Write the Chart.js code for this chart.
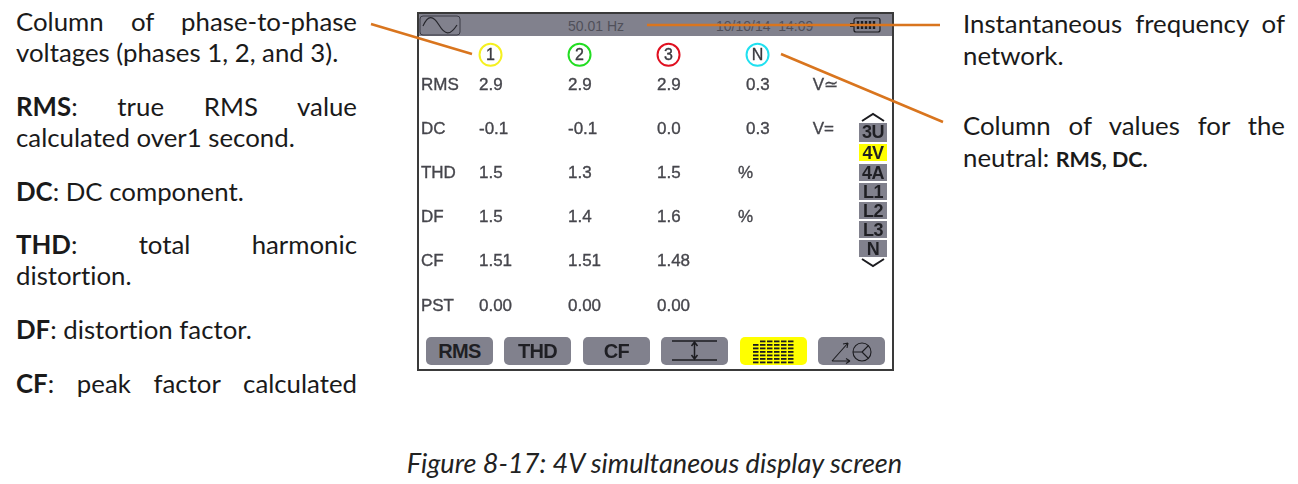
<!DOCTYPE html>
<html>
<head>
<meta charset="utf-8">
<title>4V simultaneous display screen</title>
<script src="https://cdn.jsdelivr.net/npm/chart.js@4"></script>
<style>
html, body { margin: 0; padding: 0; background: #fff; }
body { width: 1298px; height: 484px; position: relative; overflow: hidden; font-family: Lato, sans-serif; font-variant-ligatures: none; color: #1a1a1a; }
.line { position: absolute; font-size: 25.8px; line-height: 30px; height: 30px; white-space: nowrap; }
.left { left: 16px; width: 341px; }
.right { left: 963px; width: 322px; }
.just { white-space: normal; text-align: justify; text-align-last: justify; }
.small { font-size: 21.5px; font-weight: 700; }
#caption { position: absolute; left: 387px; top: 448px; width: 535px; text-align: center; font-size: 27.1px; line-height: 30px; font-style: italic; white-space: nowrap; color: #222; }
#screen { position: absolute; left: 417px; top: 12px; width: 473px; height: 355px; border: 2px solid #3a3a3a; background: #fff; }
#topbar { position: absolute; left: 419px; top: 14px; width: 473px; height: 22px; background: #81818d; font: 14px "Liberation Sans", sans-serif; color: #50505a; }
#topbar span { position: absolute; top: 4px; white-space: nowrap; }
#chart { position: absolute; left: 418px; top: 13px; }
.btn { position: absolute; top: 337px; width: 67px; height: 28px; border-radius: 5px; background: #81818d; font: bold 20px/29px "Liberation Sans", sans-serif; letter-spacing: -0.7px; color: #1f1f24; text-align: center; }
.btn.on { background: #ffff00; }
.btn svg { position: absolute; left: 0; top: 0; }
.menu { position: absolute; left: 859px; width: 28px; background: #81818d; font: bold 18px/18px "Liberation Sans", sans-serif; letter-spacing: -0.4px; color: #1f1f24; text-align: center; }
.menu.on { background: #ffff00; }
svg.over { position: absolute; left: 0; top: 0; pointer-events: none; }
</style>
</head>
<body>
<div class="line left just" style="top:6px">Column of phase-to-phase</div>
<div class="line left" style="top:37px">voltages (phases 1, 2, and 3).</div>
<div class="line left just" style="top:91px"><b>RMS</b>: true RMS value</div>
<div class="line left" style="top:122px">calculated over1 second.</div>
<div class="line left" style="top:176px"><b>DC</b>: DC component.</div>
<div class="line left just" style="top:229px"><b>THD</b>: total harmonic</div>
<div class="line left" style="top:260px">distortion.</div>
<div class="line left" style="top:314px"><b>DF</b>: distortion factor.</div>
<div class="line left just" style="top:368px"><b>CF</b>: peak factor calculated</div>

<div class="line right just" style="top:8px">Instantaneous frequency of</div>
<div class="line right" style="top:40px">network.</div>
<div class="line right just" style="top:110px">Column of values for the</div>
<div class="line right" style="top:142px">neutral: <span class="small">RMS, DC.</span></div>

<div id="caption">Figure 8-17: 4V simultaneous display screen</div>

<div id="screen"></div>
<div id="topbar">
  <span style="left:149px">50.01 Hz</span>
  <span style="left:297px">10/10/14&nbsp; 14:09</span>
  <svg width="473" height="22" style="position:absolute;left:0;top:0">
    <rect x="1" y="2" width="40" height="19" rx="3" fill="none" stroke="#3a3a44" stroke-width="1"/>
    <path d="M4 12 C9 1, 14 1, 20 11 S31 22, 38 11" fill="none" stroke="#26262c" stroke-width="1.2"/>
    <rect x="435" y="4" width="26" height="14" rx="2" fill="none" stroke="#1c1c20" stroke-width="1.2"/>
    <rect x="431" y="9" width="4" height="4" fill="#1c1c20"/>
    <path d="M439 7v8M443 7v8M447 7v8M451 7v8M455 7v8" stroke="#1c1c20" stroke-width="2.4"/>
  </svg>
</div>

<canvas id="chart" width="475" height="356" style="width:475px;height:356px"></canvas>

<div class="btn" style="left:426px">RMS</div>
<div class="btn" style="left:504px">THD</div>
<div class="btn" style="left:583px">CF</div>
<div class="btn" style="left:661px">
  <svg width="67" height="28"><path d="M11 4H56M11 23H56" stroke="#1c1c20" stroke-width="1.3"/><path d="M33.500 6V21M30.500 9L33.500 5L36.500 9M30.500 18L33.500 22L36.500 18" fill="none" stroke="#1c1c20" stroke-width="1.5"/></svg>
</div>
<div class="btn on" style="left:740px">
  <svg width="67" height="28"><g id="gridIcon"></g></svg>
</div>
<div class="btn" style="left:818px">
  <svg width="67" height="28"><path d="M14 24L30 6M14 24H32M30 6l-5 1M30 6l-1 5M32 24l-4 -2.500M32 24l-4 2.500" fill="none" stroke="#1c1c20" stroke-width="1.1"/><circle cx="44" cy="15" r="9" fill="none" stroke="#1c1c20" stroke-width="1.1"/><path d="M44 15L50.500 8.500M44 15L50.500 21.500M44 15H35" stroke="#1c1c20" stroke-width="1.1"/></svg>
</div>

<div class="menu" style="top:123px;height:19px">3U</div>
<div class="menu on" style="top:144px;height:17px">4V</div>
<div class="menu" style="top:164px;height:17px">4A</div>
<div class="menu" style="top:183px;height:17px">L1</div>
<div class="menu" style="top:202px;height:17px">L2</div>
<div class="menu" style="top:221px;height:17px">L3</div>
<div class="menu" style="top:240px;height:17px">N</div>

<svg class="over" width="1298" height="484">
  <path d="M862 121L873 114L884 121M862 259L873 266L884 259" fill="none" stroke="#1c1c20" stroke-width="2"/>
  <path d="M371 24L472 54M647 25H940M781 54L943 122" fill="none" stroke="#d9751e" stroke-width="2.5"/>
</svg>

<script>
// table
const rowNames = ['RMS', 'DC', 'THD', 'DF', 'CF', 'PST'];
const rowDecimals = [1, 1, 1, 1, 2, 2];
const phaseNames = ['1', '2', '3', 'N'];
const phaseColors = ['#f5f020', '#22dd22', '#e01020', '#20e0f0'];
const phase1 = [2.9, -0.1, 1.5, 1.5, 1.51, 0.00];
const phase2 = [2.9, -0.1, 1.3, 1.4, 1.51, 0.00];
const phase3 = [2.9, 0.0, 1.5, 1.6, 1.48, 0.00];
const neutral = [0.3, 0.3, null, null, null, null];
const voltUnits = ['V\u2243', 'V=', null, null, null, null];
const percentUnits = [null, null, '%', '%', null, null];

// column and row spots on the linear scales, one unit = one table column / row
const HEADER_ROW = -0.66;
const HEADER_COL = 0.13;
const NAME_COL = -0.652;
const PERCENT_COL = 2.91;
const VOLT_COL = 3.75;

function textColumn(col, labels, font) {
    const data = [];
    const text = [];
    labels.forEach(function (label, row) {
        if (label !== null) {
            data.push({ x: col, y: row });
            text.push(label);
        }
    });
    return { data: data, text: text, font: font, pointRadius: 0, showLine: false };
}

function valueLabels(values) {
    return values.map(function (v, row) {
        return v === null ? null : v.toFixed(rowDecimals[row]);
    });
}

// draws the text stored on each dataset at its points
const cellText = {
    id: 'cellText',
    afterDatasetsDraw: function (chart) {
        const ctx = chart.ctx;
        ctx.save();
        ctx.textBaseline = 'middle';
        ctx.lineWidth = 0.35;
        chart.data.datasets.forEach(function (ds, i) {
            ctx.font = ds.font;
            ctx.fillStyle = ds.textColor || '#46464c';
            ctx.strokeStyle = ctx.fillStyle;
            ctx.textAlign = ds.textAlign || 'left';
            chart.getDatasetMeta(i).data.forEach(function (pt, j) {
                ctx.fillText(ds.text[j], pt.x, pt.y + 1);
                ctx.strokeText(ds.text[j], pt.x, pt.y + 1);
            });
        });
        ctx.restore();
    }
};

const valueFont = '17px "Liberation Sans"';

const datasets = [
    {
        data: phaseNames.map(function (name, i) { return { x: i + HEADER_COL, y: HEADER_ROW }; }),
        text: phaseNames,
        font: '16px "Liberation Sans"',
        textColor: '#3a3a40',
        textAlign: 'center',
        showLine: false,
        pointRadius: 11,
        pointBorderWidth: 2,
        pointBackgroundColor: '#ffffff',
        pointBorderColor: phaseColors
    },
    textColumn(NAME_COL, rowNames, valueFont),
    textColumn(0, valueLabels(phase1), valueFont),
    textColumn(1, valueLabels(phase2), valueFont),
    textColumn(2, valueLabels(phase3), valueFont),
    textColumn(3, valueLabels(neutral), valueFont),
    textColumn(PERCENT_COL, percentUnits, valueFont),
    textColumn(VOLT_COL, voltUnits, valueFont)
];

new Chart(document.getElementById('chart').getContext('2d'), {
    type: 'scatter',
    data: { datasets: datasets },
    options: {
        responsive: false,
        animation: false,
        layout: { padding: 0, autoPadding: false },
        clip: false,
        scales: {
            x: { type: 'linear', display: false, min: -0.685, max: 4.652 },
            y: { type: 'linear', display: false, min: -1.606, max: 6.448, reverse: true }
        },
        plugins: { legend: { display: false }, tooltip: { enabled: false } }
    },
    plugins: [cellText]
});

// spectrum icon of the yellow button
const gridHeights = [6, 7, 7, 7, 7, 7];
let gridSvg = '';
gridHeights.forEach(function (bars, c) {
    for (let b = 0; b < bars; b++) {
        gridSvg += '<rect x="' + (13 + c * 7) + '" y="' + (24.5 - b * 3.5) + '" width="5.5" height="1.8" fill="#1c1c20"/>';
    }
});
document.getElementById('gridIcon').innerHTML = gridSvg;
</script>
</body>
</html>
